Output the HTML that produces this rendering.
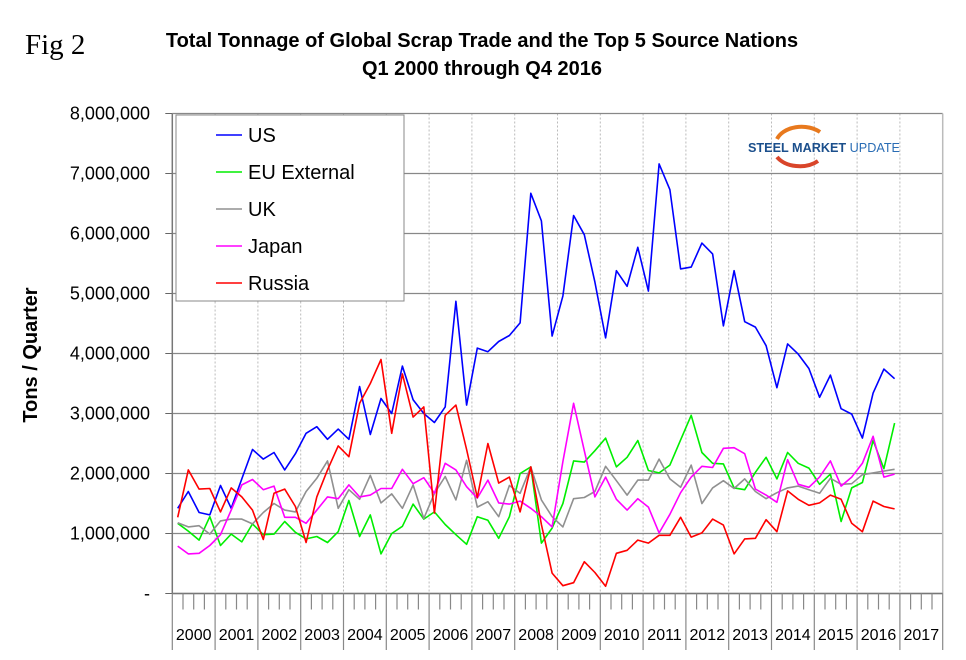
<!DOCTYPE html>
<html><head><meta charset="utf-8">
<style>
body{margin:0;background:#fff;}
svg{display:block;font-family:"Liberation Sans",sans-serif;}
</style></head>
<body>
<svg id="chart" width="966" height="660" viewBox="0 0 966 660" xmlns="http://www.w3.org/2000/svg">
<rect width="966" height="660" fill="#fff"/>
<text x="25" y="54" font-family="Liberation Serif, serif" font-size="29" fill="#000">Fig 2</text>
<text x="482" y="47" text-anchor="middle" font-size="20" font-weight="bold">Total Tonnage of Global Scrap Trade and the Top 5 Source Nations</text>
<text x="482" y="75" text-anchor="middle" font-size="20" font-weight="bold">Q1 2000 through Q4 2016</text>
<text transform="translate(37,355) rotate(-90)" text-anchor="middle" font-size="20" font-weight="bold">Tons / Quarter</text>
<g id="grid"></g>
<g id="axes"></g>
<g id="series"></g>
<g>
<path d="M777,139 A26,18 0 0 1 820,132" stroke="#e8791d" stroke-width="4" fill="none"/>
<path d="M777,157 A26,18 0 0 0 818,161" stroke="#d9452a" stroke-width="4" fill="none"/>
<text x="748" y="152" font-size="13" textLength="152" lengthAdjust="spacingAndGlyphs"><tspan font-weight="bold" fill="#1b4f8c">STEEL MARKET </tspan><tspan fill="#2a6db5">UPDATE</tspan></text>
</g>
<g id="legend"></g>
</svg>
<script>
const years = ["2000","2001","2002","2003","2004","2005","2006","2007","2008","2009","2010","2011","2012","2013","2014","2015","2016","2017"];
const yTicks = [0,1000000,2000000,3000000,4000000,5000000,6000000,7000000,8000000];
const yTickLabels = ["-","1,000,000","2,000,000","3,000,000","4,000,000","5,000,000","6,000,000","7,000,000","8,000,000"];
const seriesNames = ["US","EU External","UK","Japan","Russia"];
const seriesColors = ["#0000ff","#00ee00","#909090","#ff00ff","#ff0000"];
const usData = [1.42,1.70,1.35,1.31,1.80,1.42,1.91,2.40,2.24,2.35,2.06,2.33,2.67,2.78,2.57,2.74,2.57,3.45,2.65,3.25,3.00,3.79,3.23,3.00,2.85,3.11,4.87,3.14,4.09,4.03,4.20,4.30,4.51,6.67,6.21,4.29,4.96,6.30,5.98,5.19,4.26,5.38,5.12,5.77,5.04,7.16,6.73,5.41,5.44,5.84,5.66,4.46,5.38,4.53,4.44,4.13,3.43,4.16,3.99,3.75,3.27,3.64,3.08,2.99,2.59,3.34,3.74,3.58];
const euData = [1.17,1.04,0.89,1.28,0.80,0.99,0.86,1.16,0.98,0.99,1.20,1.02,0.91,0.95,0.85,1.03,1.55,0.95,1.31,0.66,1.00,1.12,1.49,1.24,1.36,1.15,0.98,0.82,1.28,1.22,0.92,1.28,2.00,2.11,0.84,1.09,1.50,2.21,2.19,2.38,2.59,2.11,2.27,2.55,2.05,2.01,2.14,2.56,2.97,2.35,2.17,2.16,1.76,1.73,2.02,2.27,1.91,2.35,2.17,2.09,1.82,1.99,1.20,1.76,1.85,2.55,2.08,2.84];
const ukData = [1.18,1.11,1.13,0.99,1.21,1.24,1.24,1.16,1.35,1.50,1.39,1.36,1.70,1.92,2.21,1.42,1.73,1.57,1.97,1.51,1.66,1.42,1.81,1.25,1.67,1.95,1.56,2.22,1.44,1.53,1.28,1.80,1.67,2.11,1.56,1.28,1.11,1.58,1.60,1.70,2.12,1.88,1.64,1.89,1.89,2.24,1.91,1.77,2.14,1.50,1.76,1.88,1.75,1.91,1.70,1.58,1.68,1.76,1.79,1.73,1.67,1.92,1.82,1.83,1.98,2.01,2.04,2.07];
const jpData = [0.79,0.66,0.67,0.80,0.98,1.39,1.81,1.90,1.73,1.79,1.27,1.27,1.17,1.39,1.61,1.58,1.81,1.61,1.64,1.75,1.75,2.07,1.83,1.93,1.67,2.17,2.06,1.78,1.59,1.89,1.51,1.49,1.54,1.42,1.28,1.11,2.20,3.17,2.38,1.61,1.94,1.57,1.39,1.58,1.44,1.01,1.32,1.68,1.94,2.12,2.10,2.42,2.43,2.33,1.74,1.64,1.52,2.23,1.82,1.77,1.94,2.21,1.79,1.94,2.17,2.62,1.94,1.99];
const ruData = [1.27,2.06,1.74,1.75,1.36,1.76,1.61,1.39,0.90,1.67,1.74,1.45,0.85,1.61,2.06,2.46,2.28,3.17,3.50,3.90,2.67,3.66,2.94,3.11,1.34,2.97,3.14,2.40,1.60,2.50,1.84,1.94,1.36,2.11,1.15,0.34,0.13,0.18,0.53,0.35,0.12,0.67,0.72,0.89,0.84,0.97,0.97,1.27,0.94,1.01,1.24,1.14,0.66,0.91,0.92,1.23,1.03,1.71,1.57,1.47,1.51,1.64,1.57,1.17,1.03,1.54,1.45,1.41];
const allSeries = [usData,euData,ukData,jpData,ruData];

const NS="http://www.w3.org/2000/svg";
const X0=172.3, YW=42.8, QW=YW/4, Y0=593.5, PXM=60, X1=X0+YW*years.length;
function xQ(i){return X0+QW*i+QW/2;}
function yV(v){return Y0-v/1000000*PXM;}
function mk(tag,attrs,parent){const e=document.createElementNS(NS,tag);for(const k in attrs)e.setAttribute(k,attrs[k]);parent.appendChild(e);return e;}
const grid=document.getElementById('grid'),axes=document.getElementById('axes'),ser=document.getElementById('series'),leg=document.getElementById('legend');

years.forEach((y,i)=>{
  if(i>0){const l=mk('line',{x1:X0+YW*i,x2:X0+YW*i,y1:yV(8000000),y2:Y0,stroke:'#bbb','stroke-width':1,'stroke-dasharray':'2,2'},grid);
  
  }
});
yTicks.forEach((v,i)=>{
  const y=yV(v);
  const l=mk('line',{x1:X0,x2:X1,y1:y,y2:y,stroke:'#888','stroke-width':1.2},grid);
  
  
  mk('line',{x1:X0-7,x2:X0,y1:y,y2:y,stroke:'#666'},axes);
  const t=mk('text',{x:150,y:y+6,'text-anchor':'end','font-size':18},axes);
  t.textContent=yTickLabels[i];
  
  
});
mk('line',{x1:X0,x2:X0,y1:yV(8000000),y2:Y0,stroke:'#777','stroke-width':1.5},axes);
mk('line',{x1:X1,x2:X1,y1:yV(8000000),y2:Y0,stroke:'#bbb','stroke-width':1.5},axes);
mk('line',{x1:X0,x2:X1,y1:Y0,y2:Y0,stroke:'#777','stroke-width':1.5},axes);
years.forEach((yr,i)=>{
  const xs=X0+YW*i;
  mk('line',{x1:xs,x2:xs,y1:Y0,y2:650,stroke:'#888','stroke-width':1.2},axes);
  for(let q=1;q<4;q++){mk('line',{x1:xs+QW*q,x2:xs+QW*q,y1:Y0,y2:Y0+16,stroke:'#888','stroke-width':1.2},axes);}
  const t=mk('text',{x:xs+YW/2,y:640,'text-anchor':'middle','font-size':16},axes);
  t.textContent=yr;
  
  
});
mk('line',{x1:X1,x2:X1,y1:Y0,y2:650,stroke:'#888','stroke-width':1.2},axes);
allSeries.forEach((d,s)=>{
  const pts=d.map((v,i)=>xQ(i).toFixed(1)+','+yV(v*1000000).toFixed(1)).join(' ');
  const p=mk('polyline',{points:pts,fill:'none',stroke:seriesColors[s],'stroke-width':1.6,'stroke-linejoin':'round'},ser);
  
  
});
const lb=mk('rect',{x:176,y:115,width:228,height:186,fill:'#fff',stroke:'#888','stroke-width':1},leg);


seriesNames.forEach((n,i)=>{
  const y=135+i*37;
  const g=mk('g',{},leg);
  
  
  mk('line',{x1:216,x2:242,y1:y,y2:y,stroke:seriesColors[i],'stroke-width':1.6},g);
  const t=mk('text',{x:248,y:y+7,'font-size':20},g);
  t.textContent=n;
});
</script>
</body></html>
